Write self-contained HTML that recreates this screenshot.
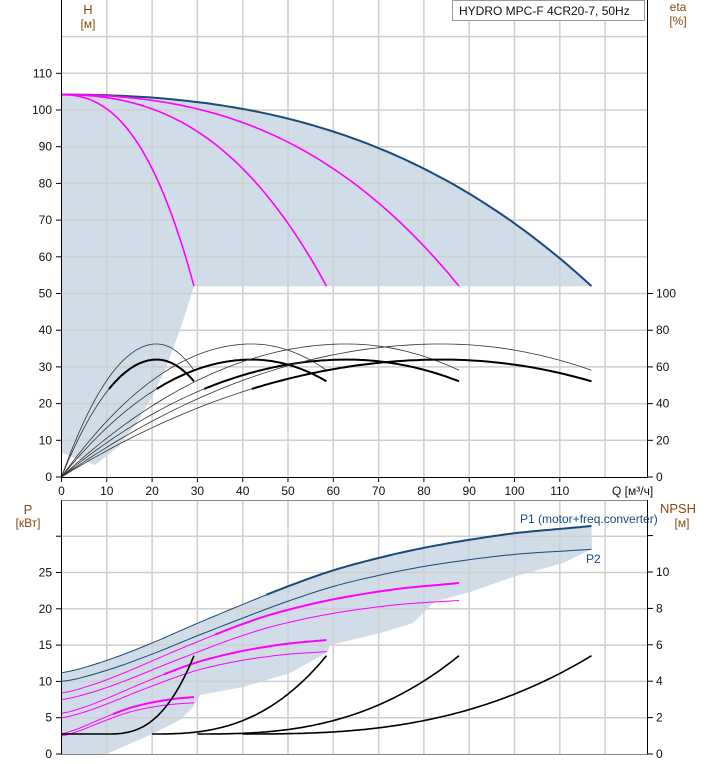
<!DOCTYPE html>
<html><head><meta charset="utf-8"><style>
body{margin:0;background:#fff;width:718px;height:764px;overflow:hidden}
svg{display:block;font-family:"Liberation Sans",sans-serif}
</style></head><body>
<svg id="s" width="718" height="764" viewBox="0 0 718 764" xmlns="http://www.w3.org/2000/svg">
<g id="shade"></g>
<g id="grid" stroke="#cfcfcf" stroke-width="1.5"></g>
<g id="curves" fill="none"></g>
<g id="axes" stroke="#000" stroke-width="1"></g>
<g font-size="12" fill="#111">
<text x="88" y="14" text-anchor="middle" fill="#8a4a10" font-size="13">H</text>
<text x="88" y="28" text-anchor="middle" fill="#8a4a10">[м]</text>
<text x="678" y="11" text-anchor="middle" fill="#8a4a10" font-size="12">eta</text>
<text x="678" y="25" text-anchor="middle" fill="#8a4a10">[%]</text>
<text x="28" y="514" text-anchor="middle" fill="#8a4a10" font-size="13">P</text>
<text x="28" y="527" text-anchor="middle" fill="#8a4a10">[кВт]</text>
<text x="678" y="513" text-anchor="middle" fill="#8a4a10" font-size="13">NPSH</text>
<text x="682" y="527" text-anchor="middle" fill="#8a4a10">[м]</text>
<text x="612" y="495" font-size="12">Q [м³/ч]</text>
<text x="520" y="523" fill="#1a4a80" font-size="12">P1 (motor+freq.converter)</text>
<text x="586" y="563" fill="#1a4a80" font-size="12">P2</text>
</g>
<rect x="452.5" y="0.5" width="192" height="20" fill="#fff" stroke="#999"/>
<text x="459" y="15" font-size="12" fill="#111" font-family="Liberation Sans,sans-serif">HYDRO MPC-F 4CR20-7, 50Hz</text>
<g id="labels" font-size="12" fill="#111"></g>
</svg>
<script>
(function(){
var NS="http://www.w3.org/2000/svg";
function X(q){return 61.5+q*4.53}
function YH(h){return 477-h*3.67}
function YP(p){return 754-p*7.26}
function YN(n){return 754-n*18.2}
function el(g,t,a,txt){var e=document.createElementNS(NS,t);for(var k in a)e.setAttribute(k,a[k]);if(txt!==undefined)e.textContent=txt;document.getElementById(g).appendChild(e);return e}
function path(pts){return pts.map(function(p,i){return (i?"L":"M")+p[0].toFixed(1)+" "+p[1].toFixed(1)}).join("")}
function f(q){return 104.2-0.00173*q*q-1.78e-5*q*q*q}
var P1t=[11.2,12.9,15.3,18.0,20.6,23.1,25.3,27.0,28.4,29.5,30.4,31.0,31.4];
function P1(q){if(q>=110){return 31.0+(q-110)/7*0.4}if(q<0)q=0;var i=Math.floor(q/10),t=q/10-i;
var p0=P1t[Math.max(i-1,0)],p1=P1t[i],p2=P1t[i+1],p3=P1t[Math.min(i+2,12)];
return 0.5*((2*p1)+(-p0+p2)*t+(2*p0-5*p1+4*p2-p3)*t*t+(-p0+3*p1-3*p2+p3)*t*t*t)}
function P2(q){return P1(q)-(1.2+2*q/117)}
function P1n(q,n){return n/4*P1(q*4/n)}
function P2n(q,n){return n/4*P2(q*4/n)}
function eta(q,E0,k){var t=q/21;return t<=1?E0*(2*t-t*t):E0*(1-k*(t-1)*(t-1))}
function N1(q){return q<=10?1.1:1.1+4.3*Math.pow((q-10)/19.25,2.7)}
function samp(a,b,fn,N){N=N||80;var r=[];for(var i=0;i<=N;i++){var q=a+(b-a)*i/N;r.push(fn(q))}return r}
var SC="#d0dce7";
var pts=samp(0,117,function(q){return [X(q),YH(f(q))]});
pts.push([X(117),YH(52)],[X(29.25),YH(52)],[180,330],[165,370],[152,397],[135,425],[118,447],[95,465],[62,453]);
el("shade","path",{d:path(pts)+"Z",fill:SC});
var tp=samp(0,117,function(q){return [X(q),YP(P1(q))]});
tp.push([592,549],[563,563],[513,577],[470,592],[440,600],[433,603],[413,623],[380,633],[330,645],[328,652],[290,673],[243,687],[200,695],[193,707],[180,720],[150,735],[120,748],[107,754],[62,754]);
el("shade","path",{d:path(tp)+"Z",fill:SC});
var n;
for(var i=1;i<=12;i++){var x=X(10*i);el("grid","line",{x1:x,y1:0,x2:x,y2:477});el("grid","line",{x1:x,y1:500,x2:x,y2:754});}
for(var h=10;h<=120;h+=10)el("grid","line",{x1:61.5,y1:YH(h),x2:648,y2:YH(h)});
for(var p=5;p<=30;p+=5)el("grid","line",{x1:61.5,y1:YP(p),x2:648,y2:YP(p)});
el("curves","path",{d:path(samp(0,117,function(q){return [X(q),YH(f(q))]})),stroke:"#1a4a7a","stroke-width":2});
for(n=1;n<=3;n++)(function(n){el("curves","path",{d:path(samp(0,29.25*n,function(q){return [X(q),YH(f(q*4/n))]})),stroke:"#ff00ff","stroke-width":1.6});})(n);
for(n=1;n<=4;n++)(function(n){
el("curves","path",{d:path(samp(0,29.25*n,function(q){return [X(q),YH(eta(q/n,72.5,1.28)/2)]})),stroke:"#333","stroke-width":0.8});
el("curves","path",{d:path(samp(0,10.5*n,function(q){return [X(q),YH(eta(q/n,64,1.2)/2)]},40)),stroke:"#333","stroke-width":0.8});
el("curves","path",{d:path(samp(10.5*n,29.25*n,function(q){return [X(q),YH(eta(q/n,64,1.2)/2)]})),stroke:"#000","stroke-width":2});
})(n);
for(n=1;n<=4;n++)(function(n){var Qm=29.25*n,c=n==4?"#1a4a7a":"#ff00ff",ts=11.3*n;
el("curves","path",{d:path(samp(0,Qm,function(q){return [X(q),YP(P2n(q,n))]})),stroke:c,"stroke-width":1});
el("curves","path",{d:path(samp(0,ts,function(q){return [X(q),YP(P1n(q,n))]},40)),stroke:c,"stroke-width":1});
el("curves","path",{d:path(samp(ts,Qm,function(q){return [X(q),YP(P1n(q,n))]})),stroke:c,"stroke-width":2});
})(n);
for(n=1;n<=4;n++)(function(n){var a=n==1?0:10*n;
el("curves","path",{d:path(samp(a,29.25*n,function(q){return [X(q),YN(N1(q/n))]})),stroke:"#000","stroke-width":1.6});})(n);
el("axes","line",{x1:61.5,y1:0,x2:61.5,y2:477.5});
el("axes","line",{x1:61,y1:477.5,x2:648,y2:477.5});
el("axes","line",{x1:647.5,y1:0,x2:647.5,y2:477.5});
el("axes","line",{x1:61.5,y1:500,x2:61.5,y2:754.5});
el("axes","line",{x1:61.5,y1:500.5,x2:648,y2:500.5,stroke:"#888"});
el("axes","line",{x1:647.5,y1:500,x2:647.5,y2:754.5});
el("axes","line",{x1:61,y1:754.5,x2:648,y2:754.5,stroke:"#888"});
for(h=0;h<=110;h+=10){el("axes","line",{x1:56,y1:YH(h),x2:61.5,y2:YH(h)});el("labels","text",{x:52,y:YH(h)+4,"text-anchor":"end"},""+h);}
for(var e=0;e<=100;e+=20){el("axes","line",{x1:647.5,y1:YH(e/2),x2:653,y2:YH(e/2)});el("labels","text",{x:656,y:YH(e/2)+4},""+e);}
for(i=0;i<=11;i++){el("axes","line",{x1:X(10*i),y1:477,x2:X(10*i),y2:482});el("labels","text",{x:X(10*i),y:495,"text-anchor":"middle"},""+10*i);}
for(p=0;p<=30;p+=5){el("axes","line",{x1:56,y1:YP(p),x2:61.5,y2:YP(p)});if(p<30)el("labels","text",{x:52,y:YP(p)+4,"text-anchor":"end"},""+p);}
for(var nn=0;nn<=12;nn+=2){el("axes","line",{x1:647.5,y1:YN(nn),x2:653,y2:YN(nn)});if(nn<12)el("labels","text",{x:656,y:YN(nn)+4},""+nn);}
})();
</script>
</body></html>
